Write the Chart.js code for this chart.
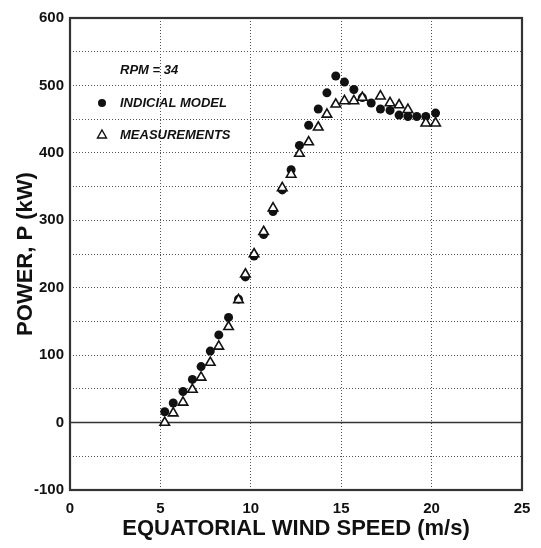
<!DOCTYPE html>
<html>
<head>
<meta charset="utf-8">
<script src="https://cdn.jsdelivr.net/npm/chart.js@4.4.1/dist/chart.umd.min.js"></script>
<style>
  html, body { margin: 0; padding: 0; background: #fff; }
  #wrap { width: 541px; height: 548px; }
</style>
</head>
<body>
<div id="wrap"><canvas id="myChart" width="541" height="548"></canvas></div>
<script>
// values
var modelSpeed = [5.24, 5.71, 6.25, 6.77, 7.25, 7.76, 8.23, 8.77, 9.32, 9.7, 10.18, 10.71, 11.23, 11.74, 12.23, 12.69,
                  13.2, 13.73, 14.21, 14.7, 15.18, 15.7, 16.17, 16.66, 17.17, 17.7, 18.2, 18.69, 19.18, 19.68, 20.22];
var modelPower = [16, 29, 46, 64, 83, 106, 130, 156, 183, 216, 247, 279, 313, 345, 375, 411,
                  441, 465, 489, 514, 505, 494, 482, 474, 465, 463, 456, 454, 454, 454, 459];

var measSpeed = [5.24, 5.71, 6.25, 6.77, 7.25, 7.76, 8.23, 8.77, 9.32, 9.7, 10.18, 10.71, 11.23, 11.74, 12.23, 12.69,
                 13.2, 13.73, 14.21, 14.7, 15.18, 15.7, 16.17, 17.17, 17.7, 18.2, 18.69, 19.68, 20.22];
var measPower = [0, 14, 30, 49, 67, 89, 113, 142, 182, 220, 250, 283, 318, 348, 368, 399,
                 416, 438, 457, 472, 477, 477, 482, 484, 474, 471, 464, 444, 444];

var xTicks = [0, 5, 10, 15, 20, 25];
var legendTitle = "RPM = 34";
var modelLabel = "INDICIAL MODEL";
var measLabel = "MEASUREMENTS";

function toPoints(xs, ys) {
    var pts = [];
    for (var i = 0; i < xs.length; i++) {
        pts.push({x: xs[i], y: ys[i]});
    }
    return pts;
}

var FONT = "'Liberation Sans', Arial, sans-serif";

// box, zero line and the little legend in the upper left
var framePlugin = {
    id: "frame",
    beforeDatasetsDraw(chart) {
        var ctx = chart.ctx;
        var a = chart.chartArea;
        var y0 = chart.scales.y.getPixelForValue(0);
        ctx.save();
        ctx.strokeStyle = "#333";
        ctx.lineWidth = 1.6;
        ctx.beginPath();
        ctx.moveTo(a.left, y0);
        ctx.lineTo(a.right, y0);
        ctx.stroke();
        ctx.lineWidth = 2.2;
        ctx.strokeRect(a.left, a.top, a.right - a.left, a.bottom - a.top);
        ctx.restore();
    },
    afterDraw(chart) {
        var ctx = chart.ctx;
        ctx.save();
        ctx.fillStyle = "#111";
        ctx.font = "italic bold 13px " + FONT;
        ctx.textBaseline = "middle";
        ctx.fillText(legendTitle, 120, 70);
        ctx.fillText(modelLabel, 120, 103);
        ctx.fillText(measLabel, 120, 135);
        ctx.beginPath();
        ctx.arc(102, 103, 4, 0, Math.PI * 2);
        ctx.fill();
        ctx.beginPath();
        ctx.lineWidth = 1.4;
        ctx.strokeStyle = "#111";
        ctx.moveTo(102, 130);
        ctx.lineTo(106.5, 138);
        ctx.lineTo(97.5, 138);
        ctx.closePath();
        ctx.stroke();
        ctx.restore();
    }
};

new Chart("myChart", {
    type: "scatter",
    data: {
        datasets: [{
            label: measLabel,
            data: toPoints(measSpeed, measPower),
            pointStyle: "triangle",
            pointRadius: 5.5,
            backgroundColor: "#fff",
            borderColor: "#111",
            borderWidth: 1.6,
            order: 0
        }, {
            label: modelLabel,
            data: toPoints(modelSpeed, modelPower),
            pointStyle: "circle",
            pointRadius: 4.5,
            backgroundColor: "#111",
            borderColor: "#111",
            borderWidth: 0,
            order: 1
        }]
    },
    options: {
        responsive: false,
        animation: false,
        layout: { padding: { top: 18, right: 19, left: 13, bottom: 6 } },
        plugins: { legend: { display: false }, tooltip: { enabled: false } },
        scales: {
            x: {
                type: "linear",
                min: 0,
                max: 25,
                afterBuildTicks(scale) {
                    scale.ticks = xTicks.map(function (v) { return {value: v}; });
                },
                afterFit(scale) { scale.height = 52; },
                grid: {
                    color: function (c) {
                        return (c.tick.value === 0 || c.tick.value === 25) ? "rgba(0,0,0,0)" : "#555";
                    },
                    lineWidth: 1,
                    drawTicks: false
                },
                border: { display: false, dash: [1, 2] },
                ticks: {
                    color: "#111",
                    padding: 10,
                    maxRotation: 0,
                    font: { family: FONT, size: 15, weight: "bold" }
                },
                title: {
                    display: true,
                    text: "EQUATORIAL WIND SPEED (m/s)",
                    color: "#111",
                    padding: { top: 0, bottom: 0 },
                    font: { family: FONT, size: 22, weight: "bold" }
                }
            },
            y: {
                min: -100,
                max: 600,
                afterFit(scale) { scale.width = 57; },
                ticks: {
                    stepSize: 50,
                    color: "#111",
                    padding: 6,
                    font: { family: FONT, size: 15, weight: "bold" },
                    callback: function (v) { return v % 100 === 0 ? v : ""; }
                },
                grid: {
                    color: function (c) {
                        var v = c.tick.value;
                        return (v === -100 || v === 600 || v === 0) ? "rgba(0,0,0,0)" : "#555";
                    },
                    lineWidth: 1,
                    drawTicks: false
                },
                border: { display: false, dash: [1, 2] },
                title: {
                    display: true,
                    text: "POWER, P (kW)",
                    color: "#111",
                    padding: { top: 0, bottom: 4 },
                    font: { family: FONT, size: 22, weight: "bold" }
                }
            }
        }
    },
    plugins: [framePlugin]
});
</script>
</body>
</html>
